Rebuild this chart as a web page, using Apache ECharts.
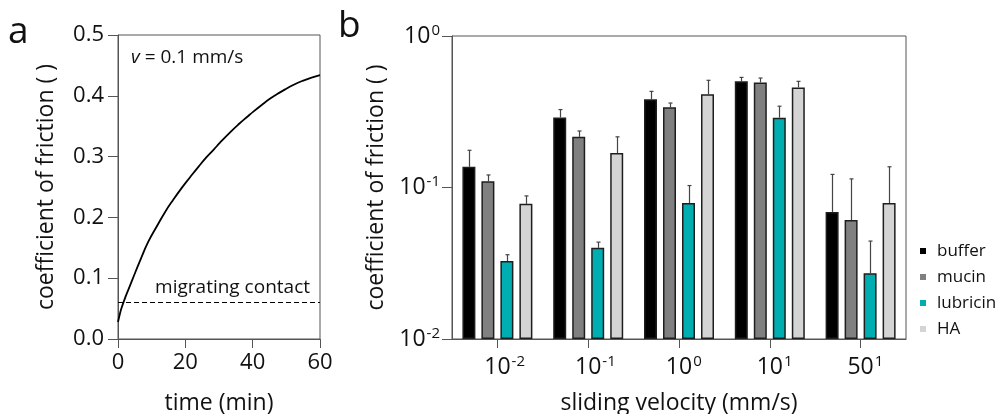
<!DOCTYPE html>
<html>
<head>
<meta charset="utf-8">
<script src="https://cdn.jsdelivr.net/npm/echarts@6/dist/echarts.min.js"></script>
<style>html,body{margin:0;padding:0;background:#fff;}#c{width:1006px;height:414px;}</style>
</head>
<body>
<div id="c"></div>
<script>
// ---- Panel a data: coefficient of friction over time (v = 0.1 mm/s)
const timeMin  = [0, 0.5, 1, 2, 3, 4.3, 6.5, 9, 11.5, 14, 16.4, 19, 21.4, 24, 26.3, 28.5, 30.3, 33.3, 36, 38.5, 40.2, 42.7, 45.1, 47.6, 50.1, 52.5, 55, 57.5, 60];
const friction = [0.028, 0.040, 0.050, 0.066, 0.080, 0.098, 0.128, 0.160, 0.185, 0.209, 0.229, 0.249, 0.266, 0.284, 0.299, 0.312, 0.323, 0.340, 0.354, 0.366, 0.374, 0.385, 0.395, 0.404, 0.412, 0.419, 0.425, 0.430, 0.434];
const migratingContact = 0.064;
const timeTicks = [0, 20, 40, 60];

// ---- Panel b data: sliding velocity categories (mantissa / exponent)
const velBase = ['10', '10', '10', '10', '50'];
const velExp  = ['-2', '-1', '0', '1', '1'];
const seriesNames = ['buffer', 'mucin', 'lubricin', 'HA'];
const buffer      = [0.137, 0.290, 0.382, 0.502, 0.069];
const bufferTop   = [0.176, 0.327, 0.431, 0.533, 0.122];
const mucin       = [0.110, 0.216, 0.338, 0.494, 0.061];
const mucinTop    = [0.121, 0.236, 0.361, 0.528, 0.114];
const lubricin    = [0.0327, 0.040, 0.079, 0.289, 0.0272];
const lubricinTop = [0.036, 0.0436, 0.103, 0.344, 0.0443];
const HA          = [0.078, 0.169, 0.412, 0.458, 0.079];
const HATop       = [0.088, 0.216, 0.510, 0.502, 0.137];
const yTickExp = ['-2', '-1', '0'];

const values = [buffer, mucin, lubricin, HA];
const tops = [bufferTop, mucinTop, lubricinTop, HATop];
const colors = ['#000000', '#808080', '#00adb0', '#d4d4d4'];

const FONT = '"Open Sans", "Noto Sans", sans-serif';
const TXT = '#111';
const AX = '#555';
const BAR_W = 13, BAR_GAP = 6;

const chart = echarts.init(document.getElementById('c'), null, {renderer: 'canvas'});

const barSeries = seriesNames.map((n, i) => ({
  name: n, type: 'bar', xAxisIndex: 1, yAxisIndex: 1,
  data: values[i], barWidth: BAR_W, barGap: (BAR_GAP / BAR_W * 100) + '%',
  itemStyle: {color: colors[i], borderColor: '#1e1e1e', borderWidth: 1.5},
  emphasis: {disabled: true}, z: 3
}));

const errSeries = seriesNames.map((n, i) => ({
  name: 'err-' + n, type: 'custom', xAxisIndex: 1, yAxisIndex: 1, z: 2,
  data: values[i].map((v, k) => [k, v, tops[i][k]]),
  encode: {x: 0, y: [1, 2]},
  renderItem: function (params, api) {
    const c0 = api.coord([api.value(0), api.value(1)]);
    const c1 = api.coord([api.value(0), api.value(2)]);
    const off = (i - 1.5) * (BAR_W + BAR_GAP);
    const x = Math.round(c0[0] + off) + 0.5;
    return {
      type: 'group',
      children: [
        {type: 'line', shape: {x1: x, y1: c0[1], x2: x, y2: c1[1]}, style: {stroke: '#444', lineWidth: 1.2}},
        {type: 'line', shape: {x1: x - 2, y1: c1[1], x2: x + 2, y2: c1[1]}, style: {stroke: '#444', lineWidth: 1.2}}
      ]
    };
  }
}));

const supRich = {
  b: {fontSize: 23, fontFamily: FONT, color: TXT, lineHeight: 26},
  s: {fontSize: 15, fontFamily: FONT, color: TXT, lineHeight: 14, verticalAlign: 'top', padding: [0, 0, 0, 1]},
  h: {fontSize: 15, fontFamily: FONT, color: 'transparent', lineHeight: 14, verticalAlign: 'top', padding: [0, 1, 0, 0]}
};

const option = {
  backgroundColor: '#fff',
  animation: false,
  textStyle: {fontFamily: FONT},
  grid: [
    {left: 118, right: 686, top: 35, bottom: 75, outerBoundsMode: 'none', containLabel: false, show: true, borderColor: AX, borderWidth: 1, backgroundColor: 'transparent'},
    {left: 452, right: 100, top: 36, bottom: 75, outerBoundsMode: 'none', containLabel: false, show: true, borderColor: AX, borderWidth: 1, backgroundColor: 'transparent'}
  ],
  xAxis: [
    {
      gridIndex: 0, type: 'value', min: timeTicks[0], max: timeTicks[timeTicks.length - 1], interval: 20,
      name: 'time (min)', nameLocation: 'middle', nameGap: 53,
      nameTextStyle: {fontSize: 23, color: TXT, fontFamily: FONT},
      axisLine: {show: true, lineStyle: {color: AX, width: 1}},
      axisTick: {show: true, inside: false, length: 9, lineStyle: {color: AX}},
      axisLabel: {fontSize: 22, color: TXT, margin: 13, fontFamily: FONT},
      splitLine: {show: false}
    },
    {
      gridIndex: 1, type: 'category', data: velBase.map((b, k) => k),
      name: 'sliding velocity (mm/s)', nameLocation: 'middle', nameGap: 53,
      nameTextStyle: {fontSize: 23, color: TXT, fontFamily: FONT},
      axisLine: {show: true, lineStyle: {color: AX, width: 1}},
      axisTick: {show: true, alignWithLabel: true, length: 9, lineStyle: {color: AX}},
      axisLabel: {
        margin: 15, interval: 0,
        formatter: (v, idx) => '{h|' + velExp[idx] + '}{b|' + velBase[idx] + '}{s|' + velExp[idx] + '}',
        rich: supRich
      },
      splitLine: {show: false}
    }
  ],
  yAxis: [
    {
      gridIndex: 0, type: 'value', min: 0, max: 0.5, interval: 0.1,
      name: 'coefficient of friction ( )', nameLocation: 'middle', nameGap: 60,
      nameTextStyle: {fontSize: 23, color: TXT, fontFamily: FONT},
      axisLine: {show: true, lineStyle: {color: AX, width: 1}},
      axisTick: {show: true, length: 10, lineStyle: {color: AX}},
      axisLabel: {fontSize: 22, color: TXT, margin: 14, fontFamily: FONT, formatter: v => v.toFixed(1)},
      splitLine: {show: false}
    },
    {
      gridIndex: 1, type: 'log', logBase: 10, min: 0.01, max: 1, startValue: 0.01,
      name: 'coefficient of friction ( )', nameLocation: 'middle', nameGap: 64,
      nameTextStyle: {fontSize: 23, color: TXT, fontFamily: FONT},
      axisLine: {show: true, lineStyle: {color: AX, width: 1}},
      axisTick: {show: true, length: 10, lineStyle: {color: AX}},
      minorTick: {show: false},
      axisLabel: {
        margin: 12,
        formatter: (v) => {
          const k = Math.round(Math.log10(v)) + 2;
          return '{b|10}{s|' + yTickExp[k] + '}';
        },
        rich: supRich
      },
      splitLine: {show: false}
    }
  ],
  legend: {
    data: seriesNames, orient: 'vertical', left: 920, top: 242, padding: 0,
    icon: 'rect', itemWidth: 6, itemHeight: 6, itemGap: 8,
    itemStyle: {borderWidth: 0},
    textStyle: {fontSize: 17, color: TXT, fontFamily: FONT, lineHeight: 18, padding: [0, 0, 0, 6]},
    selectedMode: false
  },
  graphic: [
    {type: 'text', left: 8, top: 14, style: {text: 'a', fontSize: 37, fontFamily: FONT, fill: TXT}},
    {type: 'text', left: 338, top: 8, style: {text: 'b', fontSize: 37, fontFamily: FONT, fill: TXT}},
    {type: 'text', left: 131, top: 48, style: {
      text: '{i|v} = 0.1 mm/s', fontSize: 19, fontFamily: FONT, fill: TXT,
      rich: {i: {fontStyle: 'italic', fontSize: 19, fontFamily: FONT, fill: TXT}}
    }}
  ],
  series: [
    {
      type: 'line', xAxisIndex: 0, yAxisIndex: 0,
      data: timeMin.map((t, k) => [t, friction[k]]),
      showSymbol: false, smooth: 0.5,
      lineStyle: {color: '#000', width: 1.8},
      z: 3,
      markLine: {
        silent: true, symbol: ['none', 'none'],
        lineStyle: {type: [5, 3], color: '#000', width: 1},
        label: {show: true, position: 'insideEndTop', formatter: 'migrating contact', fontSize: 19, color: TXT, fontFamily: FONT, distance: [10, 5]},
        data: [{yAxis: migratingContact}]
      }
    },
    ...barSeries,
    ...errSeries
  ]
};
chart.setOption(option);
</script>
</body>
</html>
